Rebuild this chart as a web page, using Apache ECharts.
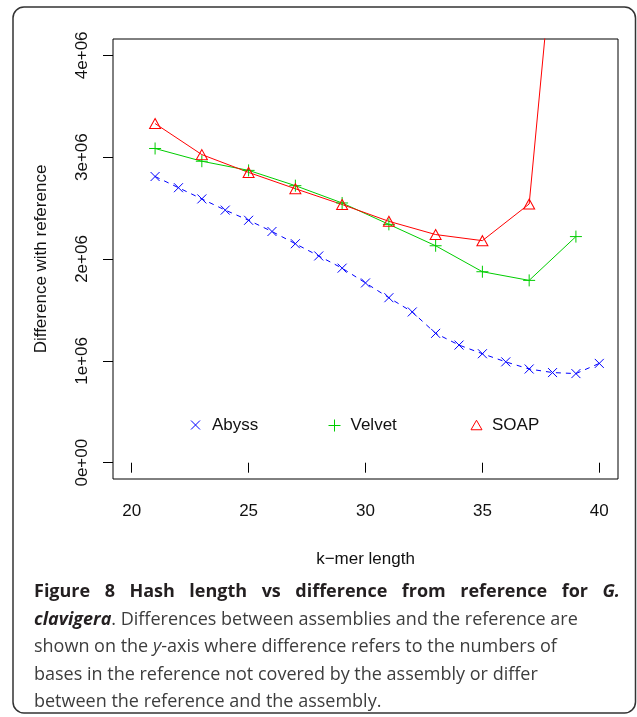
<!DOCTYPE html>
<html>
<head>
<meta charset="utf-8">
<script src="https://cdn.jsdelivr.net/npm/echarts@6/dist/echarts.min.js"></script>
<style>
html,body{margin:0;padding:0;background:#fff;}
#chart{width:637px;height:717px;}
</style>
</head>
<body>
<div id="chart"></div>
<script>
// ---- data ----
const kAbyss = [21,22,23,24,25,26,27,28,29,30,31,32,33,34,35,36,37,38,39,40];
const abyss = [2810000,2700000,2590000,2480000,2380000,2270000,2150000,2030000,1910000,1765000,1620000,1480000,1270000,1155000,1070000,990000,920000,885000,875000,975000];
const kOdd = [21,23,25,27,29,31,33,35,37,39];
const velvet = [3085000,2960000,2870000,2720000,2550000,2340000,2130000,1875000,1790000,2220000];
const soap = [3330000,3025000,2850000,2690000,2535000,2370000,2240000,2180000,2540000,7400000];
const xTicks = [20,25,30,35,40];
const yTicks = [0,1000000,2000000,3000000,4000000];
const seriesNames = ['Abyss','Velvet','SOAP'];
const xTitle = 'k\u2212mer length';
const yTitle = 'Difference with reference';

const pair = (ks, vs) => ks.map((k, i) => [k, vs[i]]);
const fmtY = v => v === 0 ? '0e+00' : (Math.round(v / 1e6)) + 'e+06';

const BLUE = '#0000ff', GREEN = '#00cd00', RED = '#ff0000';
const SYM_X = 'path://M0,0L10,10M10,0L0,10';
const SYM_PLUS = 'path://M5,0L5,10M0,5L10,5';
const SYM_TRI = 'path://M5,0L10,8.66L0,8.66Z';
const AXFONT = '"Liberation Sans", Arial, Helvetica, sans-serif';
const CAPFONT = '"Open Sans", "Noto Sans", sans-serif';

const chart = echarts.init(document.getElementById('chart'), null, {renderer: 'canvas'});

// caption line 1 justified across its width
const ctx = document.createElement('canvas').getContext('2d');
const capSize = 18;
const line1 = ['Figure','8','Hash','length','vs','difference','from','reference','for','G.'];
const x0 = 34, x1 = 620;
const fontB = 'bold ' + capSize + 'px ' + CAPFONT;
const fontBI = 'italic bold ' + capSize + 'px ' + CAPFONT;
const widths = line1.map((w, i) => { ctx.font = (i === line1.length - 1) ? fontBI : fontB; return ctx.measureText(w).width; });
const totalW = widths.reduce((a, b) => a + b, 0);
const gap = (x1 - x0 - totalW) / (line1.length - 1);
const capY = [592, 619.5, 647, 674.5, 702];
const graphics = [];
let cx = x0;
line1.forEach((w, i) => {
  graphics.push({
    type: 'text', x: cx, y: capY[0],
    style: {text: w, font: (i === line1.length - 1) ? fontBI : fontB, fill: '#231f20', textVerticalAlign: 'middle', textAlign: 'left'}
  });
  cx += widths[i] + gap;
});
const richCap = {
  bi: {fontStyle: 'italic', fontWeight: 'bold', fontSize: capSize, fontFamily: CAPFONT, fill: '#231f20', color: '#231f20'},
  i: {fontStyle: 'italic', fontSize: capSize, fontFamily: CAPFONT, fill: '#3d3d3d', color: '#3d3d3d'}
};
const restLines = [
  '{bi|clavigera}. Differences between assemblies and the reference are',
  'shown on the {i|y}-axis where difference refers to the numbers of',
  'bases in the reference not covered by the assembly or differ',
  'between the reference and the assembly.'
];
restLines.forEach((t, i) => {
  graphics.push({
    type: 'text', x: x0, y: capY[i + 1],
    style: {text: t, fontSize: capSize, fontFamily: CAPFONT, fill: '#3d3d3d', textVerticalAlign: 'middle', textAlign: 'left', rich: richCap}
  });
});
graphics.push({
  type: 'rect', shape: {x: 13, y: 7, width: 622.5, height: 706, r: 11},
  style: {fill: 'none', stroke: '#333', lineWidth: 1.5}, z: -1
});

function legendFor(name, left, top, size, pad, icon, color) {
  return {
    show: true, left: left, top: top, orient: 'horizontal', padding: 0,
    itemWidth: size, itemHeight: size, selectedMode: false,
    data: [{name: name, icon: icon, itemStyle: {color: 'none', borderColor: color, borderWidth: 1}}],
    textStyle: {fontSize: 17, fontFamily: AXFONT, color: '#111', padding: [0, 0, 0, pad]},
    itemStyle: {color: 'none', borderColor: color, borderWidth: 1},
    lineStyle: {width: 0}
  };
}

const option = {
  animation: false,
  backgroundColor: '#fff',
  grid: {left: 113, right: 19, top: 39, bottom: 238, show: true, borderColor: '#000', borderWidth: 1, backgroundColor: 'transparent', outerBoundsMode: 'none', containLabel: false},
  xAxis: {
    type: 'value', min: 19.2, max: 40.8,
    name: xTitle, nameLocation: 'middle', nameGap: 72,
    nameTextStyle: {fontSize: 17, fontFamily: AXFONT, color: '#111'},
    axisLine: {show: false},
    axisTick: {show: true, inside: false, length: 10, customValues: xTicks, lineStyle: {color: '#000', width: 1}},
    axisLabel: {show: true, margin: 24, customValues: xTicks, fontSize: 17, fontFamily: AXFONT, color: '#111'},
    splitLine: {show: false}
  },
  yAxis: {
    type: 'value', min: -160000, max: 4160000,
    name: yTitle, nameLocation: 'middle', nameGap: 63, nameRotate: 90,
    nameTextStyle: {fontSize: 17, fontFamily: AXFONT, color: '#111'},
    axisLine: {show: false},
    axisTick: {show: true, inside: false, length: 10, customValues: yTicks, lineStyle: {color: '#000', width: 1}},
    axisLabel: {show: true, rotate: 90, margin: 22, customValues: yTicks, formatter: fmtY, fontSize: 17, fontFamily: AXFONT, color: '#111'},
    splitLine: {show: false}
  },
  legend: [
    legendFor(seriesNames[0], 188.5, 416.5, 9, 7, SYM_X, BLUE),
    legendFor(seriesNames[1], 326, 417, 12, 5, SYM_PLUS, GREEN),
    legendFor(seriesNames[2], 468.5, 416.5, 11, 5, SYM_TRI, RED)
  ],
  series: [
    {
      name: seriesNames[0], type: 'line', data: pair(kAbyss, abyss),
      symbol: SYM_X, symbolSize: 9, showAllSymbol: true,
      lineStyle: {color: BLUE, width: 1, type: [5, 5]},
      itemStyle: {color: 'none', borderColor: BLUE, borderWidth: 1},
      emphasis: {disabled: true}, clip: true
    },
    {
      name: seriesNames[1], type: 'line', data: pair(kOdd, velvet),
      symbol: SYM_PLUS, symbolSize: 12, showAllSymbol: true,
      lineStyle: {color: GREEN, width: 1},
      itemStyle: {color: 'none', borderColor: GREEN, borderWidth: 1},
      emphasis: {disabled: true}, clip: true
    },
    {
      name: seriesNames[2], type: 'line', data: pair(kOdd, soap),
      symbol: SYM_TRI, symbolSize: [11, 10], showAllSymbol: true,
      lineStyle: {color: RED, width: 1},
      itemStyle: {color: 'none', borderColor: RED, borderWidth: 1},
      emphasis: {disabled: true}, clip: true
    }
  ],
  graphic: graphics
};
chart.setOption(option);
</script>
</body>
</html>
